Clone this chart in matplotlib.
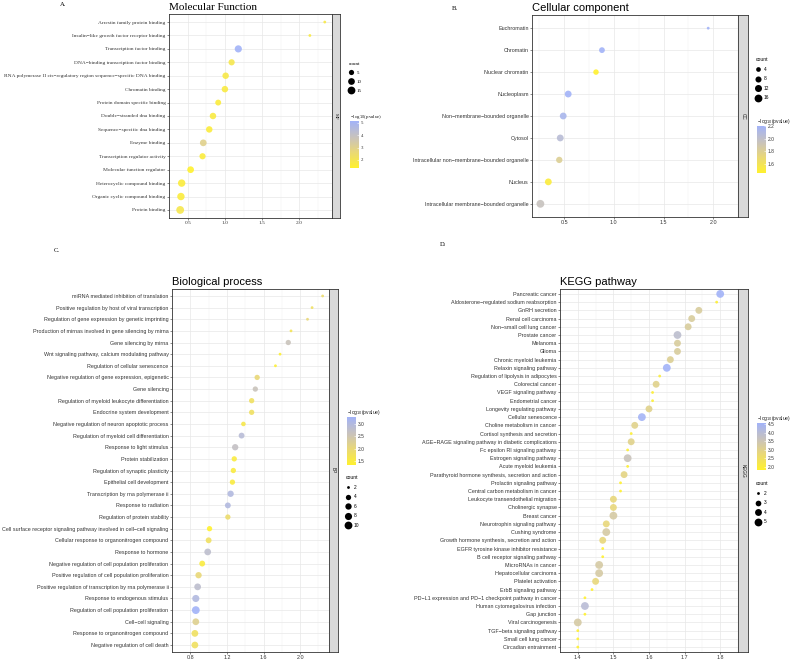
import numpy as np
import matplotlib
matplotlib.use("Agg")
import matplotlib.pyplot as plt
from matplotlib.colors import LinearSegmentedColormap, Normalize
from matplotlib.cm import ScalarMappable
from matplotlib.lines import Line2D

W, H = 793, 660

# ---- data ----
mf_terms = ["Arrestin family protein binding", "Insulin\u2212like growth factor receptor binding",
            "Transcription factor binding", "DNA\u2212binding transcription factor binding",
            "RNA polymerase II cis\u2212regulatory region sequence\u2212specific DNA binding",
            "Chromatin binding", "Protein domain specific binding", "Double\u2212stranded dna binding",
            "Sequence\u2212specific dna binding", "Enzyme binding", "Transcription regulator activity",
            "Molecular function regulator", "Heterocyclic compound binding",
            "Organic cyclic compound binding", "Protein binding"]
mf_x = [2.34, 2.14, 1.18, 1.09, 1.01, 1.00, 0.91, 0.84, 0.79, 0.71, 0.70, 0.54, 0.42, 0.41, 0.40]
mf_count = [2, 2, 12, 8, 9, 9, 7, 9, 9, 10, 8, 10, 13, 13, 15]
mf_logp = [1.8, 1.7, 5.16, 1.9, 1.8, 1.7, 1.6, 1.7, 1.6, 3.0, 1.6, 1.35, 1.6, 1.6, 1.9]

cc_terms = ["Euchromatin", "Chromatin", "Nuclear chromatin", "Nucleoplasm",
            "Non\u2212membrane\u2212bounded organelle", "Cytosol",
            "Intracellular non\u2212membrane\u2212bounded organelle", "Nucleus",
            "Intracellular membrane\u2212bounded organelle"]
cc_x = [1.95, 0.88, 0.82, 0.54, 0.49, 0.46, 0.45, 0.34, 0.26]
cc_count = [2, 7, 6, 11, 11, 11, 9, 11, 16]
cc_logp = [2.2, 2.2, 1.45, 2.2, 2.15, 2.05, 1.8, 1.5, 1.95]

bp_terms = ["miRNA mediated inhibition of translation", "Positive regulation by host of viral transcription",
            "Regulation of gene expression by genetic imprinting",
            "Production of mirnas involved in gene silencing by mirna", "Gene silencing by mirna",
            "Wnt signaling pathway, calcium modulating pathway", "Regulation of cellular senescence",
            "Negative regulation of gene expression, epigenetic", "Gene silencing",
            "Regulation of myeloid leukocyte differentiation", "Endocrine system development",
            "Negative regulation of neuron apoptotic process", "Regulation of myeloid cell differentiation",
            "Response to light stimulus", "Protein stabilization", "Regulation of synaptic plasticity",
            "Epithelial cell development", "Transcription by rna polymerase ii", "Response to radiation",
            "Regulation of protein stability",
            "Cell surface receptor signaling pathway involved in cell\u2212cell signaling",
            "Cellular response to organonitrogen compound", "Response to hormone",
            "Negative regulation of cell population proliferation",
            "Positive regulation of cell population proliferation",
            "Positive regulation of transcription by rna polymerase ii", "Response to endogenous stimulus",
            "Regulation of cell population proliferation", "Cell\u2212cell signaling",
            "Response to organonitrogen compound", "Negative regulation of cell death"]
bp_x = [2.245, 2.13, 2.08, 1.90, 1.87, 1.78, 1.73, 1.53, 1.51, 1.47, 1.47, 1.38, 1.36, 1.29, 1.28,
        1.27, 1.26, 1.24, 1.21, 1.21, 1.01, 1.00, 0.99, 0.93, 0.89, 0.88, 0.86, 0.86, 0.86, 0.85, 0.85]
bp_count = [2, 2, 2, 2, 4, 2, 2, 4, 4, 4, 4, 3, 5, 6, 4, 4, 4, 6, 5, 4, 4, 5, 7, 5, 6, 7, 8, 10, 7, 7, 7]
bp_logp = [1.9, 1.8, 2.0, 1.7, 2.6, 1.4, 1.4, 2.0, 2.6, 1.8, 1.8, 1.6, 2.9, 2.7, 1.5, 1.5, 1.5, 3.0,
           3.0, 1.9, 1.34, 1.8, 2.8, 1.5, 2.0, 2.8, 3.0, 3.28, 2.2, 1.8, 1.8]

kegg_terms = ["Pancreatic cancer", "Aldosterone\u2212regulated sodium reabsorption", "GnRH secretion",
              "Renal cell carcinoma", "Non\u2212small cell lung cancer", "Prostate cancer", "Melanoma",
              "Glioma", "Chronic myeloid leukemia", "Relaxin signaling pathway",
              "Regulation of lipolysis in adipocytes", "Colorectal cancer", "VEGF signaling pathway",
              "Endometrial cancer", "Longevity regulating pathway", "Cellular senescence",
              "Choline metabolism in cancer", "Cortisol synthesis and secretion",
              "AGE\u2212RAGE signaling pathway in diabetic complications", "Fc epsilon RI signaling pathway",
              "Estrogen signaling pathway", "Acute myeloid leukemia",
              "Parathyroid hormone synthesis, secretion and action", "Prolactin signaling pathway",
              "Central carbon metabolism in cancer", "Leukocyte transendothelial migration",
              "Cholinergic synapse", "Breast cancer", "Neurotrophin signaling pathway", "Cushing syndrome",
              "Growth hormone synthesis, secretion and action", "EGFR tyrosine kinase inhibitor resistance",
              "B cell receptor signaling pathway", "MicroRNAs in cancer", "Hepatocellular carcinoma",
              "Platelet activation", "ErbB signaling pathway",
              "PD\u2212L1 expression and PD\u22121 checkpoint pathway in cancer",
              "Human cytomegalovirus infection", "Gap junction", "Viral carcinogenesis",
              "TGF\u2212beta signaling pathway", "Small cell lung cancer", "Circadian entrainment"]
kegg_x = [1.80, 1.79, 1.74, 1.72, 1.71, 1.68, 1.68, 1.68, 1.66, 1.65, 1.63, 1.62, 1.61, 1.61, 1.60,
          1.58, 1.56, 1.55, 1.55, 1.54, 1.54, 1.54, 1.53, 1.52, 1.52, 1.50, 1.50, 1.50, 1.48, 1.48,
          1.47, 1.47, 1.47, 1.46, 1.46, 1.45, 1.44, 1.42, 1.42, 1.42, 1.40, 1.40, 1.40, 1.40]
kegg_count = [5, 2, 4, 4, 4, 5, 4, 4, 4, 5, 2, 4, 2, 2, 4, 5, 4, 2, 4, 2, 5, 2, 4, 2, 2, 4, 4, 5,
              4, 5, 4, 2, 2, 5, 5, 4, 2, 2, 5, 2, 5, 2, 2, 2]
kegg_logp = [4.56, 1.9, 3.2, 3.2, 3.2, 3.9, 3.2, 3.2, 3.1, 4.56, 2.0, 3.0, 1.9, 1.9, 3.0, 4.5, 3.0,
             1.9, 3.0, 1.9, 3.6, 1.9, 2.9, 1.85, 1.85, 2.8, 2.8, 3.3, 2.8, 3.3, 2.8, 1.85, 1.85,
             3.3, 3.3, 2.8, 1.85, 1.85, 4.0, 1.85, 3.3, 1.83, 1.83, 1.83]

cmap = LinearSegmentedColormap.from_list(
    "yb", [(0, "#FFF12E"), (0.35, "#E8D77A"), (0.62, "#CCC4B6"), (1, "#A2B3F8")])


def fx(px):
    return px / W


def fy(py):
    return 1 - py / H


def diam(c, cmin, cmax, dmin=2.8, dmax=7.8):
    # ggplot-like area scale, returns diameter in px
    t = (np.asarray(c, float) - cmin) / (cmax - cmin)
    return dmin + (dmax - dmin) * np.sqrt(np.clip(t, 0, 1))


def panel(fig, terms, xv, counts, logp, box, strip_r, title, strip_txt, xticks, xfmt,
          cbar_box, cbar_ticks, leg_xy, size_breaks, font, letter, letter_xy, lsize=3.9):
    l, t, r, b = box
    ax = fig.add_axes([fx(l), fy(b), fx(r - l), (b - t) / H])
    n = len(terms)
    y = np.arange(n)
    cmin, cmax = min(counts), max(counts)
    norm = Normalize(min(logp), max(logp))
    d = diam(counts, cmin, cmax) * 0.72
    ax.scatter(xv, y, s=d ** 2, c=logp, cmap=cmap, norm=norm, alpha=0.9,
               edgecolors="none", zorder=3)
    rng = max(xv) - min(xv)
    ax.set_xlim(min(xv) - 0.05 * rng, max(xv) + 0.05 * rng)
    ax.set_ylim(n - 0.4, -0.6)
    ax.set_yticks(y)
    ax.set_yticklabels(terms, family=font)
    ax.set_xticks(xticks)
    ax.set_xticklabels([xfmt % v for v in xticks], family=font)
    step = xticks[1] - xticks[0]
    minors = np.arange(xticks[0] - step / 2, xticks[-1] + step, step)
    ax.set_xticks(minors, minor=True)
    ax.grid(which="major", color="#E8E8E8", lw=0.5, zorder=0)
    ax.grid(which="minor", axis="x", color="#F0F0F0", lw=0.35, zorder=0)
    ax.set_axisbelow(True)
    ax.tick_params(which="major", labelsize=lsize, length=1.5, width=0.4, pad=1,
                   color="#333333", labelcolor="#333333")
    ax.tick_params(which="minor", length=0)
    for s in ax.spines.values():
        s.set_color("#333333")
        s.set_linewidth(0.6)
    ax.set_title(title, loc="left", fontsize=8, pad=3, family=font)

    sax = fig.add_axes([fx(r), fy(b), fx(strip_r - r), (b - t) / H])
    sax.set_facecolor("#D9D9D9")
    sax.set_xticks([])
    sax.set_yticks([])
    for s in sax.spines.values():
        s.set_color("#333333")
        s.set_linewidth(0.6)
    sax.text(0.5, 0.5, strip_txt, rotation=-90, ha="center", va="center",
             fontsize=3.4, color="#1A1A1A", family=font, transform=sax.transAxes)

    cl, ct, cr, cb_ = cbar_box
    cax = fig.add_axes([fx(cl), fy(cb_), fx(cr - cl), (cb_ - ct) / H])
    cbar = fig.colorbar(ScalarMappable(norm=norm, cmap=cmap), cax=cax)
    cbar.outline.set_visible(False)
    cbar.set_ticks(cbar_ticks)
    cax.tick_params(length=1.5, width=0.4, color="white", direction="in",
                    labelsize=3.5, pad=1.5, labelcolor="#333333")
    for lab in cax.get_yticklabels():
        lab.set_family(font)
    cax.set_title("\u2212log$_{10}$(pvalue)", loc="left", fontsize=3.6, pad=2.5,
                  family=font, color="#1A1A1A")

    handles = [Line2D([], [], marker="o", ls="", color="black", markeredgewidth=0,
                      markersize=float(diam(v, cmin, cmax)) * 0.72) for v in size_breaks]
    leg = ax.legend(handles, [str(v) for v in size_breaks], title="count", loc="upper left",
                    bbox_to_anchor=(fx(leg_xy[0]), fy(leg_xy[1])),
                    bbox_transform=fig.transFigure, frameon=False,
                    title_fontsize=3.6, labelspacing=0.95, handlelength=1.0,
                    handletextpad=0.6, borderpad=0, borderaxespad=0, alignment="left",
                    prop={"family": font, "size": 3.5})
    leg.get_title().set_family(font)

    fig.text(fx(letter_xy[0]), fy(letter_xy[1]), letter, fontsize=4.8,
             family="Liberation Serif", ha="center", va="center")


fig = plt.figure(figsize=(W / 100, H / 100), dpi=100)
serif = ["Liberation Serif", "DejaVu Serif"]
sans = ["Liberation Sans", "DejaVu Sans"]

panel(fig, mf_terms, mf_x, mf_count, mf_logp, (169, 14, 332, 218), 340, "Molecular Function", "MF",
      [0.5, 1.0, 1.5, 2.0], "%.1f", (350, 121, 359, 168), [2, 3, 4, 5], (349, 62), [5, 10, 15],
      serif, "A.", (63, 4), lsize=3.9)
panel(fig, cc_terms, cc_x, cc_count, cc_logp, (532, 15, 738, 217), 748, "Cellular component", "CC",
      [0.5, 1.0, 1.5, 2.0], "%.1f", (757, 126, 766, 173), [1.6, 1.8, 2.0, 2.2], (756, 57),
      [4, 8, 12, 16], sans, "B.", (455, 8))
panel(fig, bp_terms, bp_x, bp_count, bp_logp, (172, 289, 329, 652), 338, "Biological process", "BP",
      [0.8, 1.2, 1.6, 2.0], "%.1f", (347, 417, 356, 465), [1.5, 2.0, 2.5, 3.0], (346, 475),
      [2, 4, 6, 8, 10], sans, "C.", (57, 250))
panel(fig, kegg_terms, kegg_x, kegg_count, kegg_logp, (560, 289, 738, 652), 748, "KEGG pathway", "KEGG",
      [1.4, 1.5, 1.6, 1.7, 1.8], "%.1f", (757, 423, 766, 470), [2.0, 2.5, 3.0, 3.5, 4.0, 4.5],
      (756, 481), [2, 3, 4, 5], sans, "D.", (443, 245))

fig.savefig("out.png", dpi=100, facecolor="white")
